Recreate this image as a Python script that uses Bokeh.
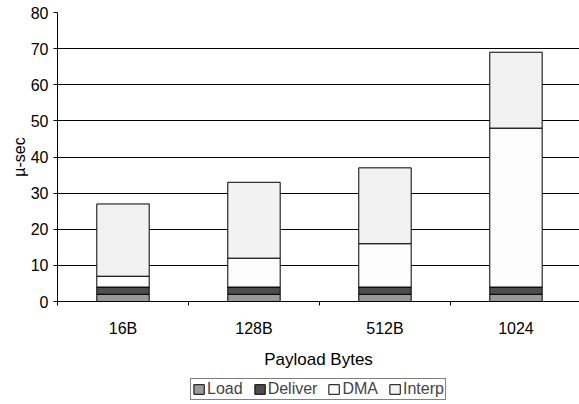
from bokeh.plotting import figure
from bokeh.layouts import column
from bokeh.models import Range1d, FixedTicker, Legend, LegendItem
from bokeh.embed import file_html
from bokeh.resources import INLINE

categories = ["16B", "128B", "512B", "1024"]
load = [2, 2, 2, 2]
deliver = [2, 2, 2, 2]
dma = [3, 8, 12, 44]
interp = [20, 21, 21, 21]
series = ["Load", "Deliver", "DMA", "Interp"]
colors = ["#999999", "#4d4d4d", "#fcfcfc", "#f2f2f2"]
y_ticks = [0, 10, 20, 30, 40, 50, 60, 70, 80]

FONT = "Liberation Sans"

xs = [i + 0.5 for i in range(len(categories))]
data = dict(x=xs, Load=load, Deliver=deliver, DMA=dma, Interp=interp)

# the reference plot area runs past the right edge of the picture
p = figure(width=579, height=374, output_backend="svg", toolbar_location=None,
           x_range=Range1d(0, 3.985), y_range=Range1d(0, 80),
           min_border_left=57, min_border_top=12, min_border_right=0, min_border_bottom=73)
p.background_fill_color = "white"
p.border_fill_color = "white"
p.outline_line_color = None

renderers = p.vbar_stack(series, x="x", width=0.40, source=data, fill_color=colors,
                         line_color="black", line_width=1)

p.xgrid.grid_line_color = None
p.ygrid.grid_line_color = "black"
p.ygrid.ticker = FixedTicker(ticks=y_ticks)

p.xaxis.ticker = FixedTicker(ticks=xs, minor_ticks=list(range(len(categories) + 1)))
p.xaxis.major_label_overrides = {x: c for x, c in zip(xs, categories)}
p.xaxis.minor_tick_in = 0
p.xaxis.minor_tick_out = 4
p.xaxis.minor_tick_line_color = "black"
p.xaxis.major_tick_in = 0
p.xaxis.major_tick_out = 4
p.xaxis.axis_label = "Payload Bytes"

p.yaxis.ticker = FixedTicker(ticks=y_ticks)
p.yaxis.major_tick_in = 0
p.yaxis.major_tick_out = 4
p.yaxis.minor_tick_line_color = None
p.yaxis.axis_label = "µ-sec"
p.yaxis.axis_label_standoff = 0
p.yaxis.major_label_standoff = 5

for ax in (p.xaxis[0], p.yaxis[0]):
    ax.axis_line_color = "black"
    ax.major_label_text_font = FONT
    ax.major_label_text_font_size = "16px"
    ax.major_label_text_color = "black"
    ax.axis_label_text_font = FONT
    ax.axis_label_text_font_size = "16px"
    ax.axis_label_text_font_style = "normal"
    ax.axis_label_text_color = "black"
p.xaxis.major_tick_line_color = None
p.yaxis.major_tick_line_color = "black"
p.xaxis.axis_label_text_font_size = "17px"
p.xaxis.major_label_standoff = 14
p.xaxis.axis_label_standoff = 10

# legend strip below the chart (same left border, so it centres under the plot area)
p2 = figure(width=579, height=29, output_backend="svg", toolbar_location=None,
            x_range=Range1d(0, 1), y_range=Range1d(0, 1),
            x_axis_location=None, y_axis_location=None,
            min_border_left=57, min_border_right=0, min_border_top=0, min_border_bottom=0)
p2.grid.grid_line_color = None
p2.outline_line_color = None
p2.background_fill_color = "white"
p2.border_fill_color = "white"
# key-only renderers, placed outside the visible range
keys = [p2.vbar(x=[3], top=[0], width=0.1, fill_color=c, line_color="black", line_width=1)
        for c in colors]

legend = Legend(items=[LegendItem(label=s, renderers=[r]) for s, r in zip(series, keys)],
                orientation="horizontal", location="center",
                label_text_font=FONT, label_text_font_size="16px",
                glyph_width=13, glyph_height=12, label_standoff=2, spacing=10,
                padding=1, margin=0, border_line_color="black", border_line_width=1,
                label_height=16, background_fill_alpha=1.0)
p2.add_layout(legend, "center")

layout = column(p, p2, spacing=0)
open("out.html", "w").write(file_html(layout, INLINE))
